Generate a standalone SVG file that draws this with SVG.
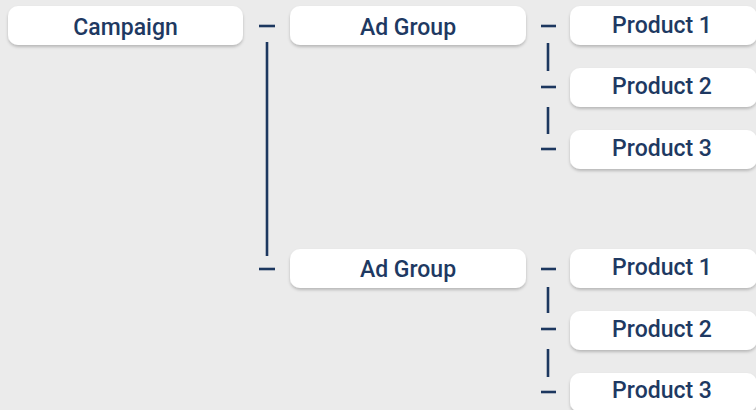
<svg xmlns="http://www.w3.org/2000/svg" width="756" height="410" viewBox="0 0 756 410">
<defs>
<filter id="sh" x="-10%" y="-30%" width="120%" height="170%">
<feDropShadow dx="0" dy="2" stdDeviation="1.8" flood-color="#000" flood-opacity="0.22"/>
</filter>
<style>
.box{fill:#ffffff;filter:url(#sh)}
.t{font-family:Roboto,"Liberation Sans",sans-serif;font-size:23px;font-weight:500;fill:#1e3962;text-anchor:middle}
.c line{stroke:#1c375f;stroke-width:2.6;stroke-linecap:butt}
</style>
</defs>
<rect width="756" height="410" fill="#ebebeb"/>
<g class="c" id="connectors">
<line x1="259" y1="26" x2="275" y2="26"/>
<line x1="267" y1="42" x2="267" y2="256"/>
<line x1="259" y1="269" x2="275" y2="269"/>
<line x1="541" y1="26" x2="556" y2="26"/>
<line x1="548" y1="43" x2="548" y2="71"/>
<line x1="541" y1="87" x2="556" y2="87"/>
<line x1="548" y1="107" x2="548" y2="134"/>
<line x1="541" y1="149" x2="556" y2="149"/>
<line x1="541" y1="269" x2="556" y2="269"/>
<line x1="548" y1="287" x2="548" y2="313"/>
<line x1="541" y1="329" x2="556" y2="329"/>
<line x1="548" y1="349" x2="548" y2="377"/>
<line x1="541" y1="392" x2="556" y2="392"/>
</g>
<g id="campaign"><rect class="box" x="8" y="6" width="235" height="39" rx="10"/><text class="t" x="125.5" y="35">Campaign</text></g>
<g id="adgroup1"><rect class="box" x="290" y="6" width="236" height="39" rx="10"/><text class="t" x="408" y="35">Ad Group</text></g>
<g id="p1a"><rect class="box" x="570" y="6" width="187" height="39" rx="10"/><text class="t" x="662" y="32.5">Product 1</text></g>
<g id="p2a"><rect class="box" x="570" y="68" width="187" height="39" rx="10"/><text class="t" x="662" y="93.5">Product 2</text></g>
<g id="p3a"><rect class="box" x="570" y="130" width="187" height="39" rx="10"/><text class="t" x="662" y="156">Product 3</text></g>
<g id="adgroup2"><rect class="box" x="290" y="249" width="236" height="39" rx="10"/><text class="t" x="408" y="276.5">Ad Group</text></g>
<g id="p1b"><rect class="box" x="570" y="249" width="187" height="39" rx="10"/><text class="t" x="662" y="275">Product 1</text></g>
<g id="p2b"><rect class="box" x="570" y="311" width="187" height="39" rx="10"/><text class="t" x="662" y="337">Product 2</text></g>
<g id="p3b"><rect class="box" x="570" y="373" width="187" height="39" rx="10"/><text class="t" x="662" y="398">Product 3</text></g>
</svg>
